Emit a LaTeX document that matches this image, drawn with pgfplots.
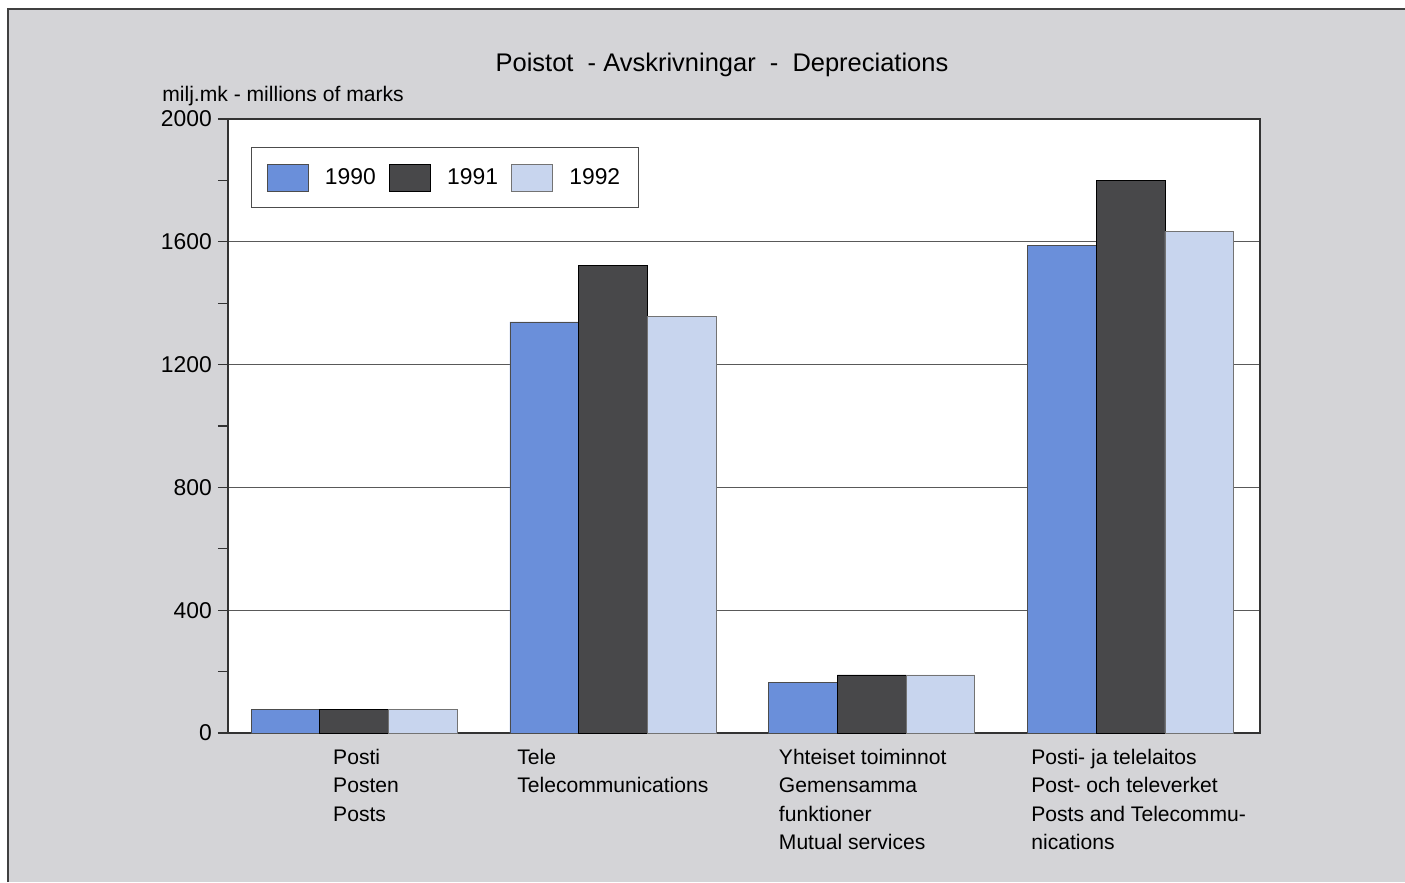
\documentclass[border=0pt]{standalone}
\usepackage{fontspec}
\setmainfont{Liberation Sans}
\usepackage{pgfplots}
\pgfplotsset{compat=1.18}

\definecolor{bgc}{RGB}{212,212,215}
\definecolor{c90}{RGB}{106,143,218}
\definecolor{c91}{RGB}{72,72,74}
\definecolor{c92}{RGB}{200,213,238}

\begin{document}
\begin{tikzpicture}
% page background and grey panel
\fill[white] (-4.56,-2.98) rectangle (23.54,14.66);
\fill[bgc] (-4.40,-2.98) rectangle (23.54,14.48);
\draw[black!75, line width=0.8pt] (-4.40,-2.98) -- (-4.40,14.48) -- (23.54,14.48);

\begin{axis}[
  at={(0,0)}, anchor=south west,
  scale only axis, width=20.64cm, height=12.28cm,
  axis background/.style={fill=white},
  ybar=0pt, bar width=1.374cm,
  xmin=-0.487, xmax=3.5, ymin=0, ymax=2000,
  xtick={0,1,2,3},
  xticklabels={{\hspace*{0.48cm}Posti\\\hspace*{0.48cm}Posten\\\hspace*{0.48cm}Posts},
               {Tele\\Telecommunications},
               {Yhteiset toiminnot\hspace*{0.36cm}\\Gemensamma\\funktioner\\Mutual services},
               {\hspace*{0.32cm}Posti- ja telelaitos\\\hspace*{0.32cm}Post- och televerket\\\hspace*{0.32cm}Posts and Telecommu-\\\hspace*{0.32cm}nications}},
  x tick label style={align=left, font=\fontsize{12}{16.2}\selectfont, anchor=north},
  major x tick style={draw=none},
  ytick={0,400,...,2000},
  minor y tick num=1,
  ytick pos=left,
  tick align=outside,
  major tick length=0.2cm, minor tick length=0.2cm,
  y tick style={black!80, line width=0.7pt},
  y tick label style={font=\fontsize{13}{15}\selectfont},
  /pgf/number format/assume math mode=true,
  /pgf/number format/1000 sep={},
  axis line style={black!80, line width=0.8pt},
  ymajorgrids, major grid style={black!65, line width=0.7pt},
  legend columns=3,
  legend image code/.code={\draw[#1, line width=0.5pt] (0cm,-0.27cm) rectangle (0.82cm,0.27cm);},
  legend style={at={(0.0223,0.9544)}, anchor=north west, draw=black!70, line width=0.6pt,
    font=\fontsize{13}{15}\selectfont, inner xsep=0.3cm, inner ysep=0.32cm,
    /tikz/every odd column/.append style={column sep=0.26cm},
    /tikz/every even column/.append style={column sep=0.19cm}},
]
\addplot[fill=c90, draw=black!70] coordinates {(0,78) (1,1339) (2,166) (3,1587)};
\addplot[fill=c91, draw=black] coordinates {(0,78) (1,1524) (2,189) (3,1801)};
\addplot[fill=c92, draw=black!55] coordinates {(0,78) (1,1358) (2,189) (3,1633)};
\legend{1990,1991,1992}
\end{axis}

\node[font=\fontsize{14.5}{17}\selectfont] at (9.88,13.36) {Poistot\ \ -\ Avskrivningar\ \ -\ \ Depreciations};
\node[anchor=west, font=\fontsize{12}{14}\selectfont, inner sep=0pt] at (-1.32,12.74) {milj.mk - millions of marks};

\pgfresetboundingbox
\path (-4.56,-2.98) rectangle (23.54,14.66);
\end{tikzpicture}
\end{document}
